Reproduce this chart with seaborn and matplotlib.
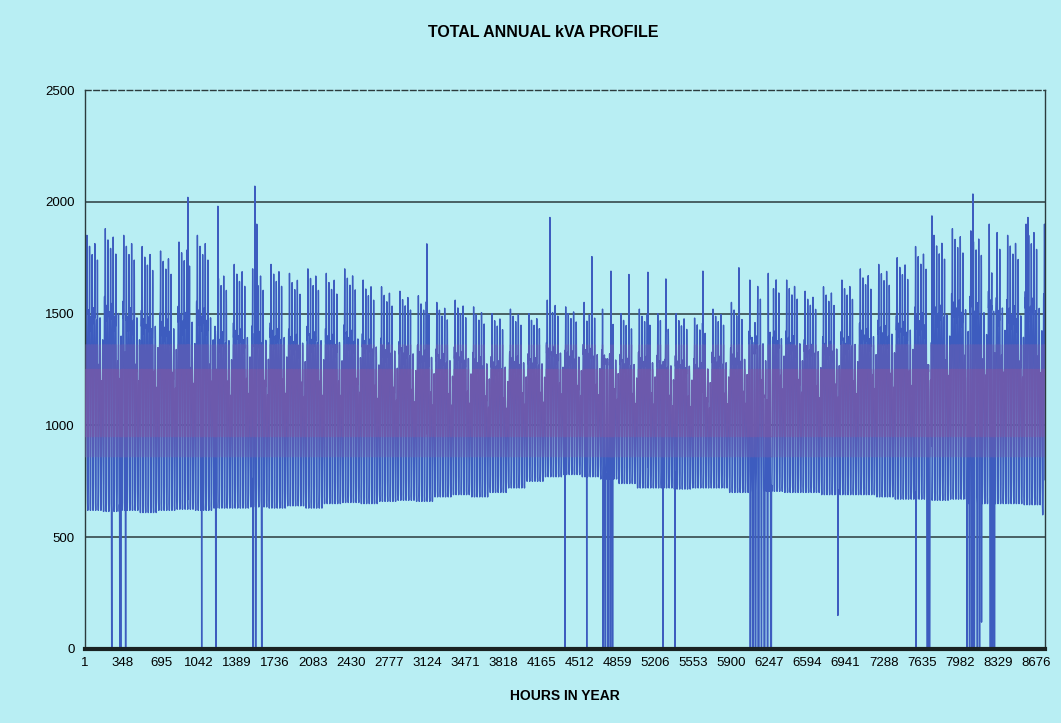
import numpy as np
import pandas as pd
import seaborn as sns
import matplotlib.pyplot as plt

# typical weekday daily max (kVA) per week of the year, read from the upper envelope
week_peak = [1850, 1880, 1850, 1800, 1780, 1820, 1850, 1700, 1720, 1700,
             1720, 1680, 1700, 1680, 1700, 1650, 1620, 1600, 1580, 1550,
             1560, 1530, 1500, 1520, 1500, 1560, 1530, 1550, 1520, 1500,
             1520, 1500, 1500, 1480, 1520, 1550, 1650, 1680, 1650, 1600,
             1620, 1650, 1700, 1720, 1750, 1800, 1850, 1880, 1870, 1900,
             1850, 1900, 1900]
# night-time minimum (kVA) per week, read from the lower envelope
week_base = [620, 615, 620, 610, 620, 625, 620, 630, 630, 635,
             630, 640, 630, 650, 655, 650, 660, 665, 660, 680,
             690, 680, 700, 720, 750, 770, 780, 770, 760, 740,
             720, 720, 715, 720, 720, 700, 700, 705, 700, 700,
             690, 690, 690, 680, 670, 670, 665, 670, 650, 650,
             650, 645, 600]
# share of the day swing reached at each hour of the day
day_shape = [0.03, 0.0, 0.0, 0.01, 0.04, 0.10, 0.24, 0.42, 0.60, 0.70,
             0.74, 0.76, 0.70, 0.72, 0.74, 0.72, 0.76, 0.86, 1.0, 0.93,
             0.78, 0.58, 0.34, 0.12]
# weekday factor, Monday..Sunday
weekday_scale = [1.0, 0.96, 0.93, 0.97, 0.91, 0.70, 0.62]

# single-hour peaks (hour, kVA)
spikes = [(940, 2020), (1195, 2250), (1214, 1980), (1551, 2070), (1569, 1900),
          (3120, 1812), (4243, 1930), (4626, 1755), (4800, 1690), (4964, 1675),
          (5137, 1685), (5301, 1655), (5639, 1690), (5967, 1705), (7582, 1946),
          (7728, 1937), (8102, 2035), (8275, 2063), (8604, 1930)]

# supply interruptions (start hour, duration in hours, kVA during interruption)
outages = [(244, 4, 0), (318, 3, 0), (326, 4, 0), (370, 5, 0), (1065, 2, 0),
           (1193, 5, 0), (1533, 3, 0), (1556, 6, 0), (1612, 5, 0),
           (4380, 2, 0), (4578, 2, 0), (4726, 6, 0), (4745, 8, 0), (4770, 6, 0),
           (4790, 10, 0), (4812, 6, 0), (5274, 3, 0), (5383, 3, 0),
           (6068, 6, 0), (6090, 10, 0), (6115, 8, 0), (6140, 12, 0), (6170, 6, 0),
           (6195, 10, 0), (6225, 8, 0), (6255, 10, 0), (6870, 1, 150),
           (7582, 3, 0), (7682, 10, 0), (7698, 12, 0), (8047, 6, 0), (8070, 5, 0),
           (8090, 10, 0), (8110, 8, 0), (8140, 5, 0), (8160, 6, 0), (8181, 1, 120),
           (8257, 8, 0), (8275, 6, 0), (8292, 10, 0)]

n_hours = 8760
hours = np.arange(1, n_hours + 1)
idx = hours - 1
wk = idx // 168
dow = (idx // 24) % 7
hod = idx % 24

peak = np.array(week_peak)[wk]
base = np.array(week_base)[wk]
kva = base + (peak - base) * np.array(weekday_scale)[dow] * np.array(day_shape)[hod]
for h, v in spikes:
    kva[h - 1] = v
for start, length, v in outages:
    kva[start - 1:start - 1 + length] = v

df = pd.DataFrame({"hour": hours, "kva": kva})
df["core_wide"] = df["kva"].clip(860, 1360)
df["core"] = df["kva"].clip(950, 1250)

bg = "#b8eef3"
sns.set_style("white")
plt.rcParams['font.family'] = ['Liberation Sans', 'DejaVu Sans']
plt.rcParams['text.color'] = 'black'

fig = plt.figure(figsize=(10.61, 7.23), dpi=100, facecolor=bg)
ax = fig.add_axes([0.080, 0.1024, 0.905, 0.7731])
ax.set_facecolor(bg)

for y in [500, 1000, 1500, 2000]:
    ax.axhline(y, color="#2b3b3d", lw=1.1, zorder=0)

sns.lineplot(data=df, x="hour", y="kva", color="#3d5cbf", lw=1.0, sort=False,
             estimator=None, ax=ax, zorder=2)
sns.lineplot(data=df, x="hour", y="core_wide", color="#6d5cb0", lw=1.0, alpha=0.5,
             sort=False, estimator=None, ax=ax, zorder=3)
sns.lineplot(data=df, x="hour", y="core", color="#7d58a6", lw=1.0, alpha=0.6,
             sort=False, estimator=None, ax=ax, zorder=3)

ax.set_xlim(0.5, n_hours + 0.5)
ax.set_ylim(0, 2500)
ax.set_yticks(range(0, 2501, 500))
tick_hours = list(range(1, n_hours + 1, 347))
ax.set_xticks(tick_hours)
ax.set_xticklabels([str(t) for t in tick_hours])
ax.tick_params(axis="both", labelsize=9.5, colors="black", length=4, width=0.8,
               direction="out")
ax.tick_params(axis="x", length=0, pad=6)

for side in ["left", "right"]:
    ax.spines[side].set_color("#2b3b3d")
    ax.spines[side].set_linewidth(1.0)
ax.spines["top"].set_color("#2b3b3d")
ax.spines["top"].set_linewidth(1.0)
ax.spines["top"].set_linestyle((0, (4, 2)))
ax.spines["bottom"].set_color("#1a2222")
ax.spines["bottom"].set_linewidth(3.0)
ax.spines["bottom"].set_zorder(4)

ax.set_xlabel("HOURS IN YEAR", fontsize=10, fontweight="bold", labelpad=14,
              color="black")
ax.set_ylabel("")
fig.text(0.512, 0.955, "TOTAL ANNUAL kVA PROFILE", ha="center", va="center",
         fontsize=11.5, fontweight="bold", color="black")

fig.savefig("out.png", dpi=100, facecolor=bg)
